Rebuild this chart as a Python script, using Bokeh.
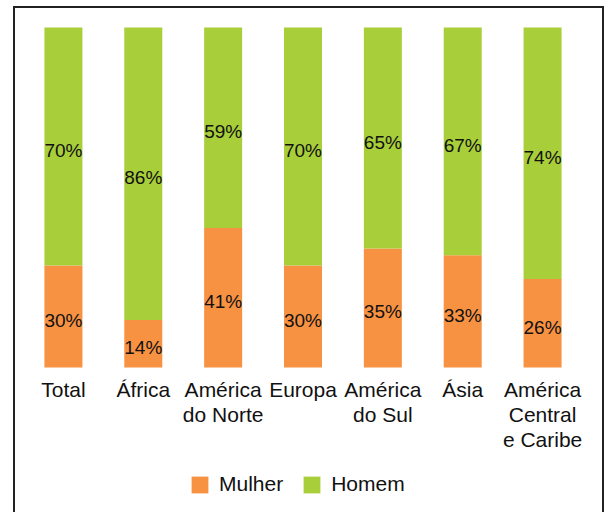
from bokeh.plotting import figure
from bokeh.models import Range1d, Legend, LegendItem, ColumnDataSource
from bokeh.core.properties import value
from bokeh.embed import file_html
from bokeh.resources import INLINE

# ---- data ----
regioes = ["Total", "África", "América\ndo Norte", "Europa", "América\ndo Sul", "Ásia", "América\nCentral\ne Caribe"]
mulher = [30, 14, 41, 30, 35, 33, 26]
homem = [70, 86, 59, 70, 65, 67, 74]
series = ["Mulher", "Homem"]
cores = ["#F89243", "#A8CE3A"]

FONT = value("Liberation Sans")

src = ColumnDataSource(dict(
    regiao=regioes,
    Mulher=mulher,
    Homem=homem,
    m_mid=[m / 2 for m in mulher],
    h_mid=[m + h / 2 for m, h in zip(mulher, homem)],
    m_txt=[f"{m}%" for m in mulher],
    h_txt=[f"{h}%" for h in homem],
    lab_y=[-3.0] * len(regioes),
))

p = figure(
    x_range=regioes,
    y_range=Range1d(-43.24, 105.59),
    width=591, height=506,
    output_backend="svg", toolbar_location=None,
    x_axis_location=None, y_axis_location=None,
    min_border_left=8, min_border_right=24, min_border_top=0, min_border_bottom=0,
)
p.styles = {
    "margin-left": "13px",
    "margin-top": "6px",
    "border-top": "2px solid #222",
    "border-left": "2px solid #222",
    "border-right": "2px solid #222",
}
p.outline_line_color = None
p.grid.visible = False
p.background_fill_color = "white"
p.border_fill_color = "white"

rs = p.vbar_stack(series, x="regiao", width=0.476, color=cores, line_color=None, source=src)

p.text(x="regiao", y="m_mid", text="m_txt", source=src, text_align="center", text_baseline="middle",
       text_font=FONT, text_font_size="19px", text_color="#111", y_offset=4)
p.text(x="regiao", y="h_mid", text="h_txt", source=src, text_align="center", text_baseline="middle",
       text_font=FONT, text_font_size="19px", text_color="#111", y_offset=4)
p.text(x="regiao", y="lab_y", text="regiao", source=src, text_align="center", text_baseline="top",
       text_font=FONT, text_font_size="21px", text_color="#111", text_line_height=1.1)

legend = Legend(
    items=[LegendItem(label=s, renderers=[r]) for s, r in zip(series, rs)],
    orientation="horizontal", location=(166, 18),
    glyph_width=21, glyph_height=21, label_standoff=9, spacing=18,
    label_text_font="Liberation Sans", label_text_font_size="21px", label_text_color="#111",
    padding=0, margin=0, border_line_color=None, background_fill_alpha=0,
)
p.add_layout(legend)

open("out.html", "w").write(file_html(p, INLINE))
